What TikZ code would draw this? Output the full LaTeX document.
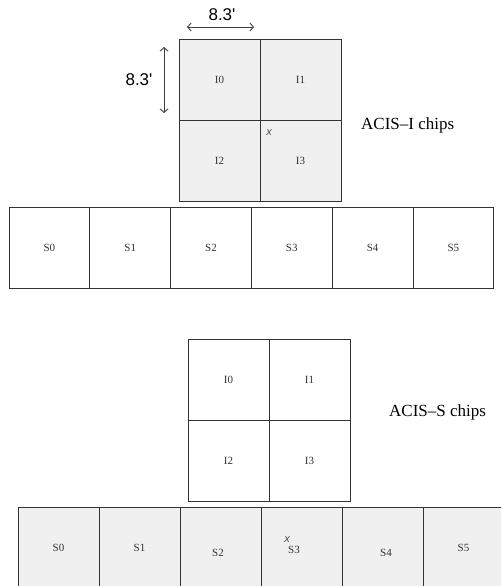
\documentclass[tikz,border=0pt]{standalone}
\usepackage{fontspec}
\setmainfont{Liberation Serif}
\newfontfamily\dimfont{Liberation Sans}
\usetikzlibrary{positioning,arrows.meta}

\tikzset{
  chip/.style={draw=black!80, line width=0.9pt, minimum width=81pt, minimum height=81pt,
    inner sep=0pt, outer sep=0pt, font=\fontsize{11}{12}\selectfont, text=black!80},
  ichip/.style={chip, fill=gray!12},
  schip/.style={chip, fill=white},
  dim/.style={black!75, line width=0.9pt, {Straight Barb[length=3.5pt,width=8pt]}-{Straight Barb[length=3.5pt,width=8pt]}},
  dimlabel/.style={font=\dimfont\fontsize{17}{19}\selectfont},
  aimpt/.style={font=\dimfont\itshape\fontsize{11}{12}\selectfont, text=black!70, inner sep=0pt},
  title/.style={font=\fontsize{17}{19}\selectfont, anchor=west, inner sep=0pt}
}

\begin{document}
\begin{tikzpicture}[x=1pt,y=-1pt]
\clip (0,0) rectangle (501,586);

% ACIS-I chips
\node[ichip, anchor=north west] (ti0) at (179,39) {I0};
\node[ichip, right=0pt of ti0] (ti1) {I1};
\node[ichip, below=0pt of ti0] (ti2) {I2};
\node[ichip, right=0pt of ti2] (ti3) {I3};
\node[aimpt] (tx) at (269,133) {x};
\node[title] (tlabel) at (361,125) {ACIS--I chips};

\node[schip, anchor=north west, minimum width=80.8pt] (ts0) at (9,207) {S0};
\node[schip, minimum width=80.8pt, right=0pt of ts0] (ts1) {S1};
\node[schip, minimum width=80.8pt, right=0pt of ts1] (ts2) {S2};
\node[schip, minimum width=80.8pt, right=0pt of ts2] (ts3) {S3};
\node[schip, minimum width=80.8pt, right=0pt of ts3] (ts4) {S4};
\node[schip, minimum width=80.8pt, right=0pt of ts4] (ts5) {S5};

% chip size
\coordinate (hl) at (187,27);
\coordinate (hr) at (254,27);
\coordinate (vt) at (164,47);
\coordinate (vb) at (164,113);
\draw[dim] (hl) -- (hr);
\draw[dim] (vt) -- (vb);
\node[dimlabel] (hsize) at (222,15) {8.3'};
\node[dimlabel] (vsize) at (139,80) {8.3'};

% ACIS-S chips
\node[schip, anchor=north west] (bi0) at (188,339) {I0};
\node[schip, right=0pt of bi0] (bi1) {I1};
\node[schip, below=0pt of bi0] (bi2) {I2};
\node[schip, right=0pt of bi2] (bi3) {I3};
\node[title] (blabel) at (389,412) {ACIS--S chips};

\node[ichip, anchor=north west] (bs0) at (18,507) {S0};
\node[ichip, right=0pt of bs0] (bs1) {S1};
\node[ichip, right=0pt of bs1] (bs2) {};
\node[ichip, right=0pt of bs2] (bs3) {};
\node[ichip, right=0pt of bs3] (bs4) {};
\node[ichip, right=0pt of bs4] (bs5) {S5};
\node[font=\fontsize{11}{12}\selectfont, text=black!80] (bs2name) at (218,553) {S2};
\node[font=\fontsize{11}{12}\selectfont, text=black!80] (bs3name) at (294,550) {S3};
\node[font=\fontsize{11}{12}\selectfont, text=black!80] (bs4name) at (386,553) {S4};
\node[aimpt] (bx) at (287,540) {x};
\end{tikzpicture}
\end{document}
